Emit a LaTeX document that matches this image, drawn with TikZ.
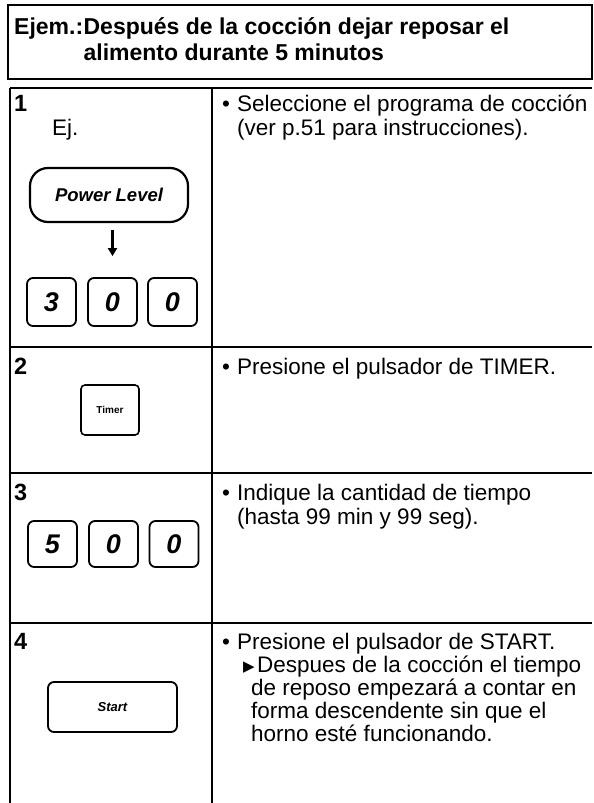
\documentclass[tikz,border=0pt]{standalone}
\usepackage{fontspec}
\setmainfont{Liberation Sans}
\newfontfamily\symfont{DejaVu Sans}
\usetikzlibrary{arrows.meta}
\tikzset{
  rule/.style={line width=1.4pt, black},
  body/.style={font=\fontsize{22.5}{23}\selectfont, inner sep=0pt, anchor=base west},
  num/.style={font=\bfseries\fontsize{23.5}{23.5}\selectfont, inner sep=0pt, anchor=base west},
  hdr/.style={font=\bfseries\fontsize{23}{26}\selectfont, inner sep=0pt, anchor=base west},
  key/.style={draw, line width=1.8pt, rounded corners=6pt, inner sep=0pt},
  digit/.style={key, minimum width=49pt, minimum height=48pt, font=\bfseries\itshape\fontsize{27}{27}\selectfont},
  arr/.style={line width=2.6pt, -{Triangle[length=8pt,width=9pt]}},
}
\begin{document}
\begin{tikzpicture}[x=1pt,y=-1pt]
\useasboundingbox (0,0) rectangle (594,803);
% header
\draw[rule] (8,5) rectangle (592,79);
\node[hdr] (h1) at (14,34) {Ejem.:};
\node[hdr] (h2) at (h1.base east) {Después de la cocción dejar reposar el};
\node[hdr, anchor=base west] (h3) at ([yshift=-26pt]h2.base west) {alimento durante 5 minutos};
% table lines
\draw[rule] (10,88) -- (592,88);
\draw[rule] (10,88) -- (10,803);
\draw[rule] (212,88) -- (212,803);
\draw[rule] (10,347) -- (592,347);
\draw[rule] (10,473) -- (592,473);
\draw[rule] (10,623) -- (592,623);
% row 1
\node[num] (n1) at (14,111) {1};
\node[body] (ej) at (52,135) {Ej.};
\node[key, line width=2.2pt, rounded corners=18pt, minimum width=158pt, minimum height=54pt,
      font=\bfseries\itshape\fontsize{18.5}{18.5}\selectfont] (pl) at (109,195) {Power Level};
\node[digit] (k1a) at (51.5,302) {3};
\node[digit] (k1b) at (112.5,302) {0};
\node[digit] (k1c) at (172.5,302) {0};
\draw[arr, shorten <=7pt, shorten >=21pt] (pl.south -| k1b) -- (k1b.north);
\node[body] (b1) at (222,111) {•};
\node[body] (t1a) at (237,111) {Seleccione el programa de cocción};
\node[body] (t1b) at (237,135) {(ver p.51 para instrucciones).};
% row 2
\node[num] (n2) at (14,374) {2};
\node[key, line width=1.6pt, rounded corners=4pt, minimum width=58pt, minimum height=50pt,
      font=\bfseries\fontsize{10}{10}\selectfont] (tm) at (110,410) {Timer};
\node[body] (b2) at (222,374) {•};
\node[body] (t2a) at (237,374) {Presione el pulsador de TIMER.};
% row 3
\node[num] (n3) at (14,500) {3};
\node[digit, minimum height=46pt] (k3a) at (52.5,544) {5};
\node[digit, minimum height=46pt] (k3b) at (113.5,544) {0};
\node[digit, minimum height=46pt] (k3c) at (174,544) {0};
\node[body] (b3) at (222,500) {•};
\node[body] (t3a) at (237,500) {Indique la cantidad de tiempo};
\node[body] (t3b) at (237,524) {(hasta 99 min y 99 seg).};
% row 4
\node[num] (n4) at (14,649) {4};
\node[key, line width=1.8pt, rounded corners=6pt, minimum width=129pt, minimum height=50pt,
      font=\bfseries\itshape\fontsize{13}{13}\selectfont] (st) at (112.5,707) {Start};
\node[body] (b4) at (222,649) {•};
\node[body] (t4a) at (237,649) {Presione el pulsador de START.};
\node[body, font=\symfont\fontsize{15}{15}\selectfont] (tri) at (243,671) {▶};
\node[body] (t4b) at (257,672) {Despues de la cocción el tiempo};
\node[body] (t4c) at (251,695) {de reposo empezará a contar en};
\node[body] (t4d) at (251,718) {forma descendente sin que el};
\node[body] (t4e) at (251,741) {horno esté funcionando.};
\end{tikzpicture}
\end{document}
